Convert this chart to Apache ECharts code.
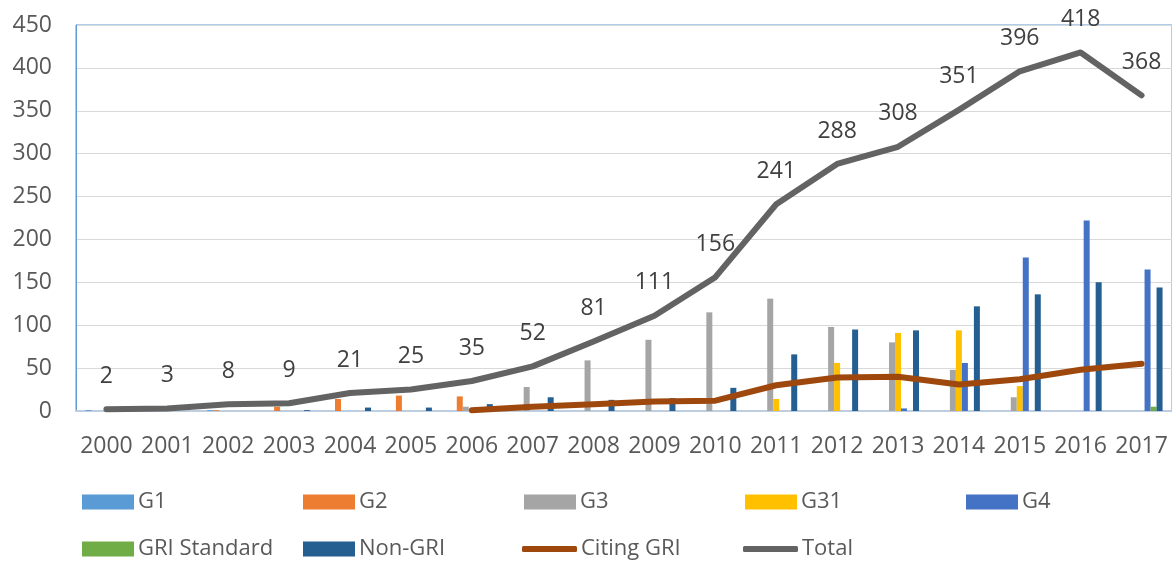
<!DOCTYPE html>
<html>
<head>
<meta charset="utf-8">
<script src="https://cdn.jsdelivr.net/npm/echarts@6/dist/echarts.min.js"></script>
<style>
html,body{margin:0;padding:0;background:#fff;}
#chart{width:1172px;height:561px;}
</style>
</head>
<body>
<div id="chart"></div>
<script>
const years = ['2000','2001','2002','2003','2004','2005','2006','2007','2008','2009','2010','2011','2012','2013','2014','2015','2016','2017'];
const g1 =      [1,0,1,0,0,0,0,0,0,0,0,0,0,0,0,0,0,0];
const g2 =      [0,0,1,5,14,18,17,0,0,0,0,0,0,0,0,0,0,0];
const g3 =      [0,0,0,0,0,0,5,28,59,83,115,131,98,80,48,16,0,0];
const g31 =     [0,0,0,0,0,0,0,0,0,0,0,14,56,91,94,29,0,0];
const g4 =      [0,0,0,0,0,0,0,0,0,0,0,0,0,3,56,179,222,165];
const griStd =  [0,0,0,0,0,0,0,0,0,0,0,0,0,0,0,0,0,5];
const nonGri =  [0,0,0,1,4,4,8,16,13,15,27,66,95,94,122,136,150,144];
const citing =  [null,null,null,null,null,null,1,5,8,11,12,30,39,40,31,37,48,55];
const total =   [2,3,8,9,21,25,35,52,81,111,156,241,288,308,351,396,418,368];
const yTicks = {min:0, max:450, interval:50};

const FONT = 'Open Sans';
const TXT = '#595959';
const chart = echarts.init(document.getElementById('chart'));

const barNames = ['G1','G2','G3','G31','G4','GRI Standard','Non-GRI'];
const barData = [g1,g2,g3,g31,g4,griStd,nonGri];
const barColors = ['#5b9bd5','#ed7d31','#a5a5a5','#ffc000','#4472c4','#70ad47','#255e91'];

const series = barNames.map((n,i)=>({
  name:n, type:'bar', data:barData[i], barWidth:6, barGap:'0%',
  itemStyle:{color:barColors[i]}, silent:true
}));
series.push({
  name:'Citing GRI', type:'line', data:citing, symbol:'none',
  lineStyle:{color:'#9e480e', width:6, cap:'round', join:'round'},
  itemStyle:{color:'#9e480e'}, z:5
});
series.push({
  name:'Total', type:'line', data:total, symbol:'circle', symbolSize:0, showSymbol:true,
  lineStyle:{color:'#636363', width:6, cap:'round', join:'round'},
  itemStyle:{color:'#636363'}, z:6,
  label:{show:true, position:'top', distance:21, fontFamily:FONT, fontSize:23, lineHeight:24, color:'#404040'}
});

const legendPos = [
  ['G1',82,491,'rect',52,15],['G2',303,491,'rect',52,15],['G3',524,491,'rect',52,15],
  ['G31',745,491,'rect',52,15],['G4',966,491,'rect',52,15],
  ['GRI Standard',82,538,'rect',52,15],['Non-GRI',303,538,'rect',52,15],
  ['Citing GRI',522,538,'roundRect',55,6],['Total',743,538,'roundRect',55,6]
];
const legends = legendPos.map(p=>({
  data:[{name:p[0], icon:p[3]}], left:p[1], top:p[2], itemWidth:p[4], itemHeight:p[5],
  padding:0, itemGap:0, selectedMode:false,
  textStyle:{fontFamily:FONT, fontSize:22, color:TXT, padding:[0,0,0,-1]}
}));

chart.setOption({
  animation:false,
  textStyle:{fontFamily:FONT},
  legend:legends,
  grid:{left:76, right:0, top:25, bottom:150, show:true, borderColor:'#5b9bd5', borderWidth:1},
  xAxis:{
    type:'category', data:years,
    axisLine:{show:true, lineStyle:{color:'#bfcde0', width:2}},
    axisTick:{show:false},
    axisLabel:{fontFamily:FONT, fontSize:23, color:TXT, margin:24, interval:0}
  },
  yAxis:{
    type:'value', min:yTicks.min, max:yTicks.max, interval:yTicks.interval,
    axisLine:{show:true, lineStyle:{color:'#5b9bd5', width:1}},
    axisTick:{show:false},
    splitLine:{lineStyle:{color:'#d9d9d9', width:1}},
    axisLabel:{fontFamily:FONT, fontSize:23, color:TXT, margin:24}
  },
  series:series
});
</script>
</body>
</html>
